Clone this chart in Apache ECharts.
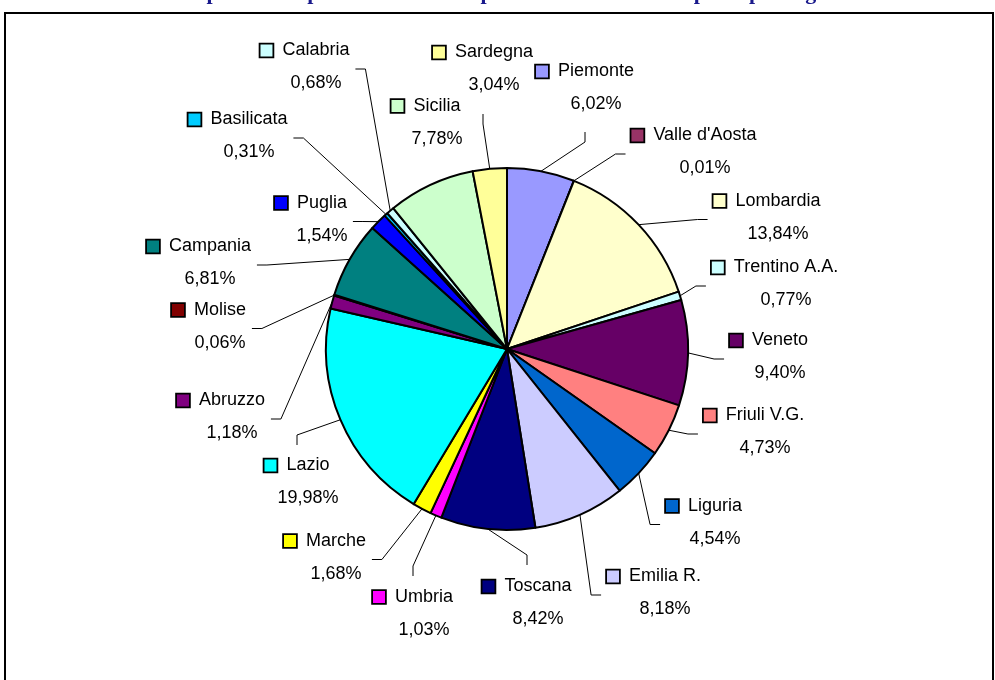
<!DOCTYPE html>
<html><head><meta charset="utf-8">
<script src="https://cdn.jsdelivr.net/npm/echarts@6/dist/echarts.min.js"></script>
<style>html,body{margin:0;padding:0;background:#fff}#c{width:995px;height:680px}</style>
</head><body><div id="c"></div>
<script>
// ---- data ----
const regions = ['Piemonte', "Valle d'Aosta", 'Lombardia', 'Trentino A.A.', 'Veneto', 'Friuli V.G.', 'Liguria', 'Emilia R.', 'Toscana', 'Umbria', 'Marche', 'Lazio', 'Abruzzo', 'Molise', 'Campania', 'Puglia', 'Basilicata', 'Calabria', 'Sicilia', 'Sardegna'];
const shares = [6.02, 0.01, 13.84, 0.77, 9.40, 4.73, 4.54, 8.18, 8.42, 1.03, 1.68, 19.98, 1.18, 0.06, 6.81, 1.54, 0.31, 0.68, 7.78, 3.04];
const titleText = 'Ripartizione percentuale delle spese sostenute dalle imprese per regione';

// ---- styles / layout (kept apart from the data) ----
const sliceColors = ['#9999FF', '#993366', '#FFFFCC', '#CCFFFF', '#660066', '#FF8080', '#0066CC', '#CCCCFF', '#000080', '#FF00FF', '#FFFF00', '#00FFFF', '#800080', '#800000', '#008080', '#0000FF', '#00CCFF', '#CCFFFF', '#CCFFCC', '#FFFF99'];
// label text centre x, first-line y, second-line y
const labelAnchors = [
  [596, 72, 104], [705, 136, 168], [778, 200, 235], [786, 268, 300], [780, 340, 374],
  [765, 415, 449], [715, 505, 540], [665, 577, 609], [538, 586, 620], [424, 597, 630],
  [336, 540, 575], [308, 466, 498], [232, 400, 434], [220, 310, 343], [210, 246, 280],
  [322, 203, 236], [249, 119, 153], [316, 50, 84], [437, 105, 140], [494, 52, 86]
];
const hiddenLeaders = ['Sicilia'];
const FONT = '"Liberation Sans", Arial, sans-serif';

function richFor(color) {
  const txt = { fontSize: 18, fontFamily: FONT, color: '#000', lineHeight: 33 };
  return {
    k: { width: 12, height: 12, backgroundColor: color, borderColor: '#000', borderWidth: 1.8, verticalAlign: 'middle' },
    g: { width: 10, lineHeight: 33 },
    s: { width: 22, lineHeight: 33 },
    n: txt,
    v: txt
  };
}

const data = regions.map((name, i) => ({
  name: name,
  value: shares[i],
  itemStyle: { color: sliceColors[i] },
  label: { rich: richFor(sliceColors[i]) },
  labelLine: { show: hiddenLeaders.indexOf(name) < 0 }
}));

const chart = echarts.init(document.getElementById('c'), null, { renderer: 'canvas' });
chart.setOption({
  animation: false,
  backgroundColor: '#fff',
  graphic: [
    { type: 'rect', shape: { x: 5, y: 13, width: 988, height: 680 }, style: { fill: null, stroke: '#000', lineWidth: 2 }, z: 10 },
    { type: 'text', style: { text: titleText, x: 520, y: 4, align: 'center', verticalAlign: 'bottom', font: 'bold 22px "Liberation Serif", serif', fill: '#1a1a8c' } }
  ],
  series: [{
    type: 'pie',
    center: [507, 349],
    radius: 181,
    startAngle: 90,
    clockwise: true,
    avoidLabelOverlap: false,
    emphasis: { disabled: true },
    itemStyle: { borderColor: '#000', borderWidth: 2 },
    label: {
      show: true,
      position: 'outside',
      formatter: p => '{k|}{g|}{n|' + p.name + '}\n{s|}{v|' + p.value.toFixed(2).replace('.', ',') + '%}'
    },
    labelLine: { show: true, length: 10, length2: 10, lineStyle: { color: '#000', width: 1 } },
    labelLayout: function (p) {
      const a = labelAnchors[p.dataIndex];
      const cx = a[0] - 11, cy = (a[1] + a[2]) / 2;
      const w = p.labelRect.width;
      const left = cx - w / 2, right = cx + w / 2;
      const res = { x: cx, y: cy, align: 'center', verticalAlign: 'middle', hideOverlap: false };
      if (p.labelLinePoints && p.labelLinePoints.length) {
        const s = p.labelLinePoints[0];
        let pts;
        if (s[0] < left - 4) { const y = cy + 2; pts = [s, [left - 15, y], [left - 5, y]]; }
        else if (s[0] > right + 8) { const y = cy + 2; pts = [s, [right + 15, y], [right + 5, y]]; }
        else if (s[1] > a[2]) { const y = a[2] + 28; pts = [s, [cx, y + 10], [cx, y]]; }
        else { const y = a[1] - 21; pts = [s, [cx, y - 10], [cx, y]]; }
        res.labelLinePoints = pts;
      }
      return res;
    },
    data: data
  }]
});
</script></body></html>
